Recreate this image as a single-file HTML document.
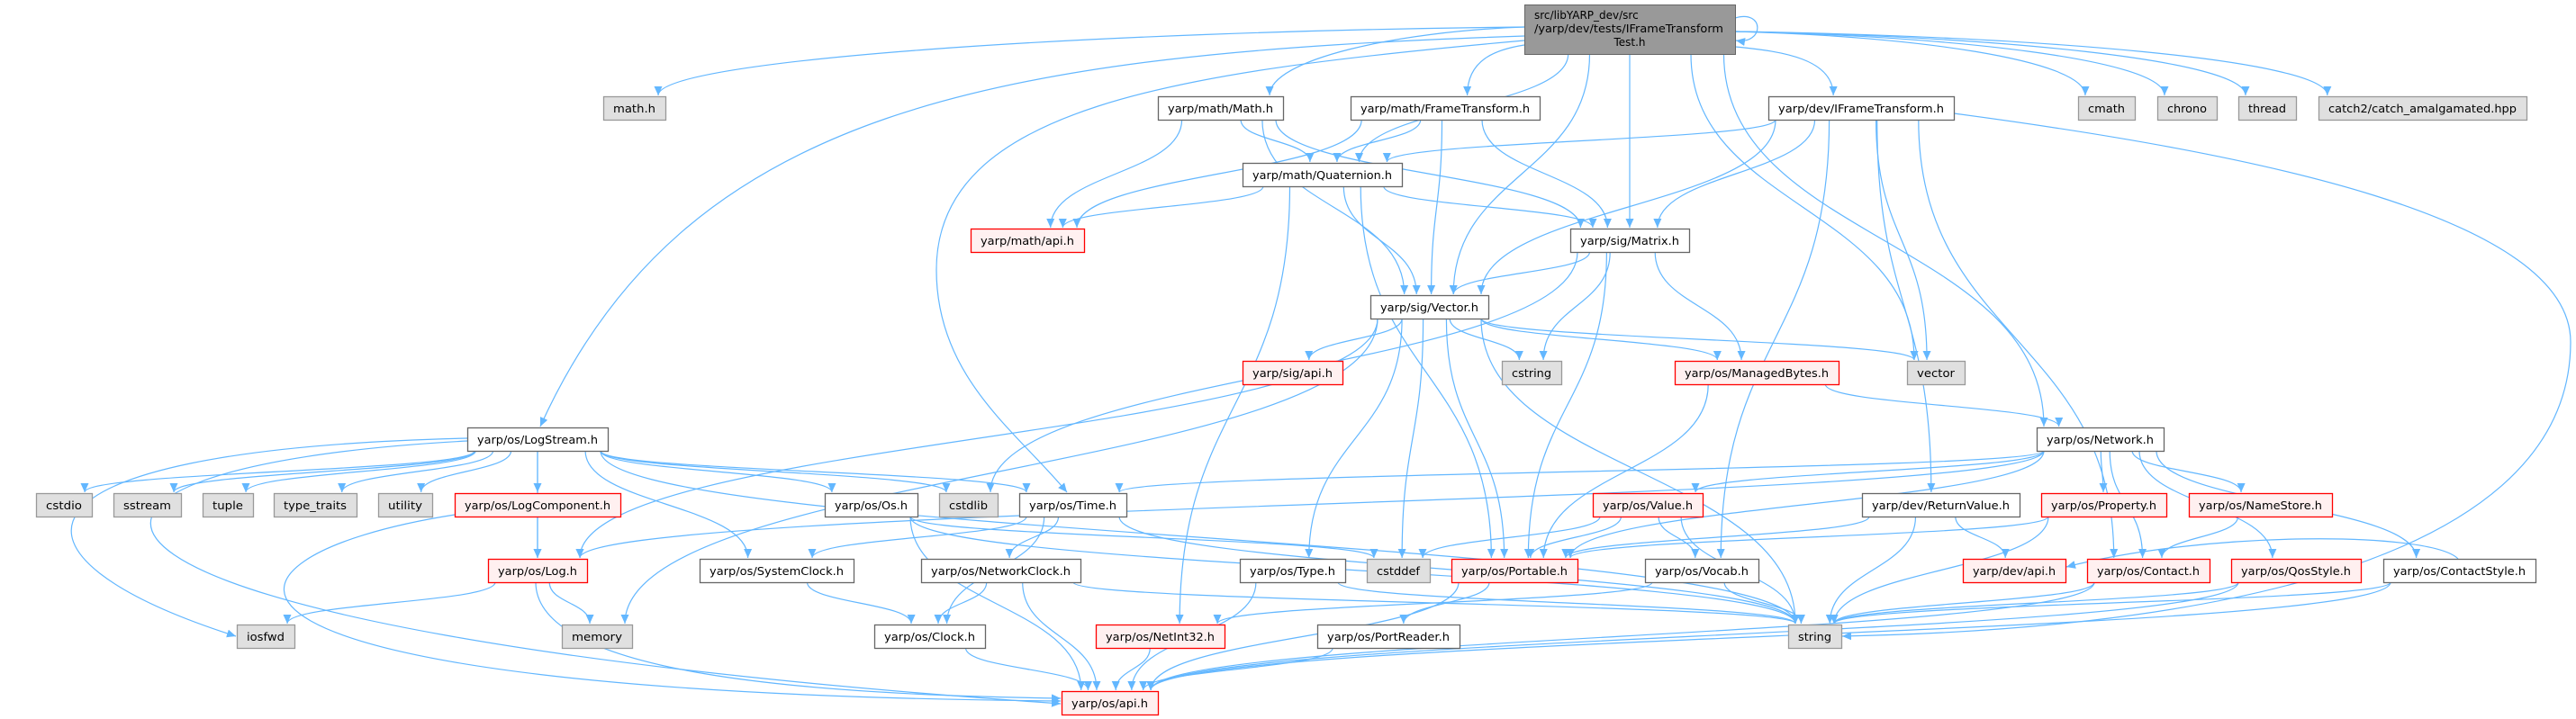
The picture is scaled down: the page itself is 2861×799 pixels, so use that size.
<!DOCTYPE html>
<html><head><meta charset="utf-8">
<style>
html,body{margin:0;padding:0;background:#fff;}
svg{display:block;}
text{font-family:"DejaVu Sans","Liberation Sans",sans-serif;font-size:12px;fill:#000;}
</style></head>
<body>
<svg id="g" width="2861" height="799" viewBox="0 0 2861 799" xmlns="http://www.w3.org/2000/svg">
<defs>
<marker id="ar" markerUnits="userSpaceOnUse" markerWidth="12" markerHeight="10" refX="10" refY="4.5" orient="auto">
<path d="M0,0 L10,4.5 L0,9 z" fill="#63b7ff"/>
</marker>
</defs>
<g id="edges" fill="none" stroke="#63b7ff" stroke-width="1.2"></g>
<g id="nodes"></g>
</svg>
<script>
var R={1:5,2:107,3:181,4:254,5:328,6:401,7:475,8:548,9:621,10:694,11:768};
var L=[
["mathh","math.h",670,739,2,"g"],["Math","yarp/math/Math.h",1286,1425,2,"w"],
["FT","yarp/math/FrameTransform.h",1500,1710,2,"w"],["IFT","yarp/dev/IFrameTransform.h",1964,2170,2,"w"],
["cmath","cmath",2308,2371,2,"g"],["chrono","chrono",2396,2462,2,"g"],["thread","thread",2486,2550,2,"g"],
["catch2","catch2/catch_amalgamated.hpp",2575,2806,2,"g"],
["Quat","yarp/math/Quaternion.h",1380,1557,3,"w"],
["mapi","yarp/math/api.h",1078,1204,4,"r"],["Matrix","yarp/sig/Matrix.h",1744,1876,4,"w"],
["Vector","yarp/sig/Vector.h",1522,1653,5,"w"],
["sapi","yarp/sig/api.h",1380,1491,6,"r"],["cstring","cstring",1668,1734,6,"g"],
["MB","yarp/os/ManagedBytes.h",1860,2042,6,"r"],["vector","vector",2118,2182,6,"g"],
["LS","yarp/os/LogStream.h",519,675,7,"w"],["Network","yarp/os/Network.h",2262,2403,7,"w"],
["cstdio","cstdio",40,102,8,"g"],["sstream","sstream",126,201,8,"g"],["tuple","tuple",225,281,8,"g"],
["tt","type_traits",304,396,8,"g"],["utility","utility",420,480,8,"g"],
["LC","yarp/os/LogComponent.h",505,689,8,"r"],["Os","yarp/os/Os.h",916,1019,8,"w"],
["cstdlib","cstdlib",1043,1108,8,"g"],["Time","yarp/os/Time.h",1132,1251,8,"w"],
["Value","yarp/os/Value.h",1769,1891,8,"r"],["RV","yarp/dev/ReturnValue.h",2068,2243,8,"w"],
["Property","yarp/os/Property.h",2267,2406,8,"r"],["NS","yarp/os/NameStore.h",2431,2590,8,"r"],
["Log","yarp/os/Log.h",542,652,9,"r"],["SC","yarp/os/SystemClock.h",777,948,9,"w"],
["NC","yarp/os/NetworkClock.h",1023,1200,9,"w"],["Type","yarp/os/Type.h",1377,1494,9,"w"],
["cstddef","cstddef",1518,1588,9,"g"],["Portable","yarp/os/Portable.h",1612,1752,9,"r"],
["Vocab","yarp/os/Vocab.h",1827,1953,9,"w"],["devapi","yarp/dev/api.h",2180,2294,9,"r"],
["Contact","yarp/os/Contact.h",2318,2454,9,"r"],["Qos","yarp/os/QosStyle.h",2478,2622,9,"r"],
["CS","yarp/os/ContactStyle.h",2647,2816,9,"w"],
["iosfwd","iosfwd",263,327,10,"g"],["memory","memory",624,702,10,"g"],["Clock","yarp/os/Clock.h",971,1094,10,"w"],
["NetInt32","yarp/os/NetInt32.h",1217,1360,10,"r"],["PR","yarp/os/PortReader.h",1463,1621,10,"w"],
["string","string",1986,2045,10,"g"],
["api","yarp/os/api.h",1179,1286,11,"r"]
];
var N={main:{x1:1693,x2:1927,y1:5,y2:60}};
L.forEach(function(a){N[a[0]]={l:a[1],x1:a[2],x2:a[3],y1:R[a[4]],y2:R[a[4]]+26,t:a[5]};});
var NS="http://www.w3.org/2000/svg";
var eg=document.getElementById("edges"),ng=document.getElementById("nodes");
function P(d){var p=document.createElementNS(NS,"path");p.setAttribute("d",d);p.setAttribute("marker-end","url(#ar)");eg.appendChild(p);}
function cl(v,a,b){return Math.max(a,Math.min(b,v));}
function E(a,b){
 var s=N[a],t=N[b];var scx=(s.x1+s.x2)/2,tcx=(t.x1+t.x2)/2;
 if(s.y1==t.y1){var y=s.y1+13;
  if(tcx<scx)P("M"+s.x1+","+y+" L"+(t.x2+1)+","+y);else P("M"+s.x2+","+y+" L"+(t.x1-1)+","+y);return;}
 var sx=cl(scx+(tcx-scx)*0.2,s.x1+8,s.x2-8),tx=cl(tcx+(scx-tcx)*0.12,t.x1+8,t.x2-8);
 var sy=s.y2,ty=t.y1-1;
 if(a=="main"&&t.y1<120){ // row 2 from main: leave from side
   if(tcx<1693){sx=1693;sy=t.x2<1500?30:50;}else if(tcx>1927){sx=1927;sy=t.x1>2280?35:52;}
   P("M"+sx+","+sy+" C"+(sx+(tx-sx)*0.5)+","+(sy+5)+" "+tx+","+(ty-40)+" "+tx+","+ty);return;}
 var dy=ty-sy;
 P("M"+sx+","+sy+" C"+sx+","+(sy+dy*0.5)+" "+tx+","+(ty-dy*0.5)+" "+tx+","+ty);
}
function C(d){P(d);}
var edges=[
["main","mathh"],["main","Math"],["main","FT"],["main","IFT"],["main","cmath"],["main","chrono"],["main","thread"],["main","catch2"],
["main","Quat"],["main","Matrix"],["main","Vector"],["main","vector"],["main","Network"],
["Math","mapi"],["Math","Quat"],["Math","Vector"],["Math","Matrix"],
["FT","mapi"],["FT","Quat"],["FT","Vector"],["FT","Matrix"],
["IFT","Quat"],["IFT","Matrix"],["IFT","Vector"],["IFT","vector"],["IFT","Vocab"],["IFT","RV"],["IFT","Contact"],
["Quat","mapi"],["Quat","Matrix"],["Quat","Vector"],["Quat","NetInt32"],["Quat","Portable"],
["Matrix","Vector"],["Matrix","cstring"],["Matrix","MB"],["Matrix","Portable"],["Matrix","cstdlib"],
["Vector","Log"],["Vector","memory"],["Vector","cstring"],["Vector","vector"],["Vector","MB"],["Vector","sapi"],
["Vector","Type"],["Vector","cstddef"],["Vector","Portable"],["Vector","string"],
["MB","Network"],["MB","Portable"],
["LS","cstdio"],["LS","sstream"],["LS","tuple"],["LS","tt"],["LS","utility"],["LS","LC"],["LS","Log"],
["LS","Os"],["LS","cstdlib"],["LS","Time"],["LS","SC"],["LS","string"],
["LC","Log"],["Log","iosfwd"],["Log","memory"],
["Os","api"],["Os","cstddef"],["Os","string"],
["Time","SC"],["Time","NC"],["Time","Clock"],["Time","string"],
["SC","Clock"],["NC","Clock"],["NC","api"],["NC","string"],["Clock","api"],["NetInt32","api"],
["Network","Time"],["Network","Portable"],["Network","Value"],["Network","Property"],["Network","NS"],
["Network","Contact"],["Network","Qos"],["Network","CS"],["Network","Log"],
["Value","cstddef"],["Value","Portable"],["Value","Vocab"],["Value","string"],
["RV","Portable"],["RV","devapi"],["RV","string"],
["Property","Portable"],["Property","string"],["NS","Contact"],
["Contact","string"],["Contact","api"],["Qos","string"],["Qos","api"],["CS","string"],["CS","api"],
["Portable","PR"],["Portable","api"],["PR","api"],["Type","string"],["Type","api"],
["Vocab","string"],["Vocab","NetInt32"]
];
edges.forEach(function(e){E(e[0],e[1]);});
// special curves
C("M1693,40 C1100,60 760,120 600,474");
C("M1693,45 C1300,80 1040,120 1040,300 C1040,420 1130,480 1185,547");
C("M519,487 C-20,500 -10,620 262,707");
C("M519,490 C-40,520 -10,700 1178,782");
C("M505,572 C200,620 160,770 1178,779");
C("M595,647 C595,750 900,772 1178,776");
C("M2170,126 C2500,170 2855,240 2855,380 C2855,640 2400,700 2046,707");
C("M2730,621 C2700,590 2450,590 2295,630");
C("M1927,20 C1960,10 1960,50 1928,45");
// nodes
function add(tag,attrs,txt){var e=document.createElementNS(NS,tag);for(var k in attrs)e.setAttribute(k,attrs[k]);if(txt!=null)e.textContent=txt;ng.appendChild(e);return e;}
var main=N.main;
add("rect",{x:main.x1+0.5,y:main.y1+0.5,width:main.x2-main.x1,height:main.y2-main.y1,fill:"#999999",stroke:"#666666","stroke-width":1});
add("text",{x:1704,y:21},"src/libYARP_dev/src");
add("text",{x:1704,y:36,textLength:210,lengthAdjust:"spacingAndGlyphs"},"/yarp/dev/tests/IFrameTransform");
add("text",{x:1810,y:51,"text-anchor":"middle"},"Test.h");
L.forEach(function(a){var n=N[a[0]];
 var f=n.t=="g"?"#e0e0e0":(n.t=="r"?"#fff0f0":"#ffffff");
 var s=n.t=="g"?"#999999":(n.t=="r"?"#ff0000":"#666666");
 add("rect",{x:n.x1+0.5,y:n.y1+0.5,width:n.x2-n.x1,height:26,fill:f,stroke:s,"stroke-width":1.3});
 add("text",{x:(n.x1+n.x2)/2,y:n.y1+18,"text-anchor":"middle",textLength:Math.max(10,n.x2-n.x1-22),lengthAdjust:"spacingAndGlyphs"},n.l);
});
</script>
</body></html>
